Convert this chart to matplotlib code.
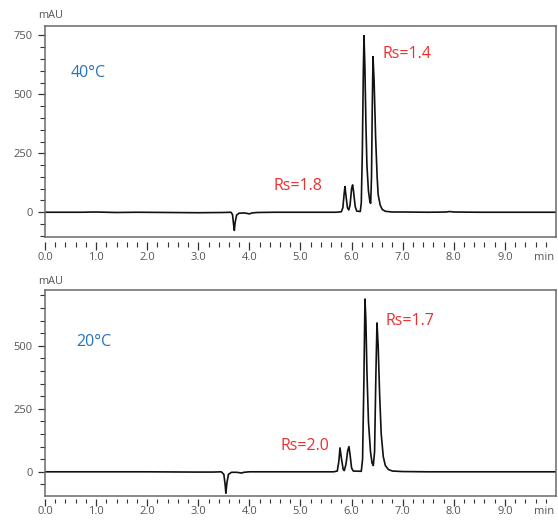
# -*- coding: utf-8 -*-
import numpy as np
from matplotlib import pyplot as plt
from matplotlib.ticker import MultipleLocator, FixedLocator


# trace (time [min], signal [mAU])
t40 = [0.0, 0.7, 1.0, 1.4, 1.8, 2.4, 3.0, 3.5, 3.64, 3.67, 3.69, 3.705, 3.72,
       3.75, 3.80, 3.90, 3.96, 4.00, 4.05, 4.15, 4.5, 5.0, 5.5, 5.70, 5.80,
       5.83, 5.855, 5.871, 5.89, 5.92, 5.945, 5.97, 6.00, 6.02, 6.04, 6.07,
       6.10, 6.17, 6.19, 6.21, 6.23, 6.243, 6.26, 6.28, 6.30, 6.33, 6.36,
       6.374, 6.39, 6.405, 6.419, 6.44, 6.47, 6.50, 6.52, 6.56, 6.60, 6.66,
       6.80, 7.0, 7.5, 7.85, 7.92, 8.0, 8.5, 9.0, 9.5, 10.0]
mau40 = [0, 0, 1, -1, 0, -1, -2, -1, 0, -10, -50, -77, -45,
         -12, -4, -3, -5, -7, -3, -1, 0, 0, 0, 0, 2,
         20, 80, 109, 70, 18, 10, 30, 100, 116, 85, 25,
         5, 3, 40, 250, 600, 749, 620, 380, 200, 90, 42,
         38, 150, 450, 660, 560, 320, 150, 75, 30, 12, 4,
         1, 1, 0, 1, 3, 1, 0, 0, 0, 0]

# trace
t20 = [0.0, 1.0, 2.0, 2.9, 3.3, 3.45, 3.50, 3.525, 3.54, 3.56, 3.59, 3.65,
       3.75, 3.82, 3.85, 3.89, 4.0, 4.5, 5.0, 5.5, 5.65, 5.72, 5.75, 5.773,
       5.80, 5.835, 5.857, 5.89, 5.925, 5.949, 5.975, 6.00, 6.033, 6.19,
       6.215, 6.24, 6.262, 6.28, 6.30, 6.33, 6.37, 6.40, 6.425, 6.45, 6.475,
       6.497, 6.52, 6.55, 6.58, 6.62, 6.66, 6.72, 6.80, 7.0, 7.5, 8.0, 8.5,
       9.0, 9.5, 10.0]
mau20 = [0, 0, 0, -1, -1, 0, -10, -50, -85, -45, -10, -2,
         -2, -4, -5, -2, 0, 0, 0, 0, 0, 3, 40, 95,
         55, 10, 5, 30, 85, 100, 60, 15, 3, 2,
         50, 350, 686, 600, 400, 200, 80, 35, 25, 80, 380,
         591, 500, 300, 150, 60, 25, 9, 3, 1, 0, 0, 0,
         0, 0, 0]

temps = ["40°C", "20°C"]
temp_pos = [(0.51, 572), (0.62, 501)]
rs_low = ["Rs=1.8", "Rs=2.0"]
rs_low_pos = [(4.48, 93), (4.60, 85)]
rs_high = ["Rs=1.4", "Rs=1.7"]
rs_high_pos = [(6.61, 654), (6.67, 582)]
ylims = [(-105, 790), (-95, 722)]
ymajor = [[0, 250, 500, 750], [0, 250, 500]]
yminor = [list(range(-100, 751, 50)), list(range(-100, 701, 50))]
xmajor = [0, 1, 2, 3, 4, 5, 6, 7, 8, 9]
xlabels = ["%.1f" % v for v in xmajor]

FONT = "Open Sans"
BLUE = "#2474bb"
RED = "#ec2f2f"
GREY = "#555555"

# per panel: spine offset, major tick length, label pad (points)
XTICK_GEOM = [(3.6, 5.5, 1.5), (2.4, 4.8, 0.5)]


def main():
    plt.rcParams["font.family"] = [FONT, "DejaVu Sans"]
    fig = plt.figure(figsize=(5.58, 5.21), dpi=100)
    ax_top = fig.add_axes([0.0806, 0.5451, 0.9158, 0.4050])
    ax_bot = fig.add_axes([0.0806, 0.0485, 0.9158, 0.3950])

    for i, (ax, t, y) in enumerate([(ax_top, t40, mau40), (ax_bot, t20, mau20)]):
        ax.plot(t, y, color="#111111", lw=1.2)
        setup_axis(ax, i)
        ax.text(*temp_pos[i], temps[i], color=BLUE, fontsize=11.5)
        ax.text(*rs_low_pos[i], rs_low[i], color=RED, fontsize=11.5)
        ax.text(*rs_high_pos[i], rs_high[i], color=RED, fontsize=11.5)

    fig.text(38 / 558, 1 - 16 / 521, "mAU", va="center", fontsize=7.8, color=GREY)
    fig.text(38 / 558, 1 - 281 / 521, "mAU", va="center", fontsize=7.8, color=GREY)

    fig.savefig("out.png", dpi=100)


def setup_axis(ax, i):
    ax.set_xlim(0, 10)
    ax.set_ylim(*ylims[i])
    offset, ticklen, pad = XTICK_GEOM[i]

    for s in ["top", "right", "left"]:
        ax.spines[s].set_color("#6a6a6a")
        ax.spines[s].set_linewidth(1.1)
    # x ticks hang a little below the frame
    ax.spines["bottom"].set_position(("outward", offset))
    ax.spines["bottom"].set_visible(False)
    ax.plot([0, 1], [0, 0], transform=ax.transAxes, color="#6a6a6a",
            lw=1.1, clip_on=False)

    ax.xaxis.set_major_locator(FixedLocator(xmajor))
    ax.set_xticklabels(xlabels)
    ax.xaxis.set_minor_locator(FixedLocator([v / 5 for v in range(50)]))
    ax.yaxis.set_major_locator(FixedLocator(ymajor[i]))
    ax.yaxis.set_minor_locator(FixedLocator(yminor[i]))

    ax.tick_params(axis="x", which="major", length=ticklen, width=0.9,
                   color="#333333", labelsize=8, labelcolor=GREY, pad=pad)
    ax.tick_params(axis="x", which="minor", length=ticklen * 0.65, width=0.8,
                   color="#333333")
    ax.tick_params(axis="y", which="major", length=5, width=0.9,
                   color="#333333", labelsize=8, labelcolor=GREY, pad=4)
    ax.tick_params(axis="y", which="minor", length=3.4, width=0.8,
                   color="#333333")

    ax.annotate("min", xy=(1, 0), xycoords="axes fraction",
                xytext=(-1, -(offset + ticklen + pad)), textcoords="offset points",
                ha="right", va="top", fontsize=8, color=GREY)


if __name__ == '__main__':
    main()
